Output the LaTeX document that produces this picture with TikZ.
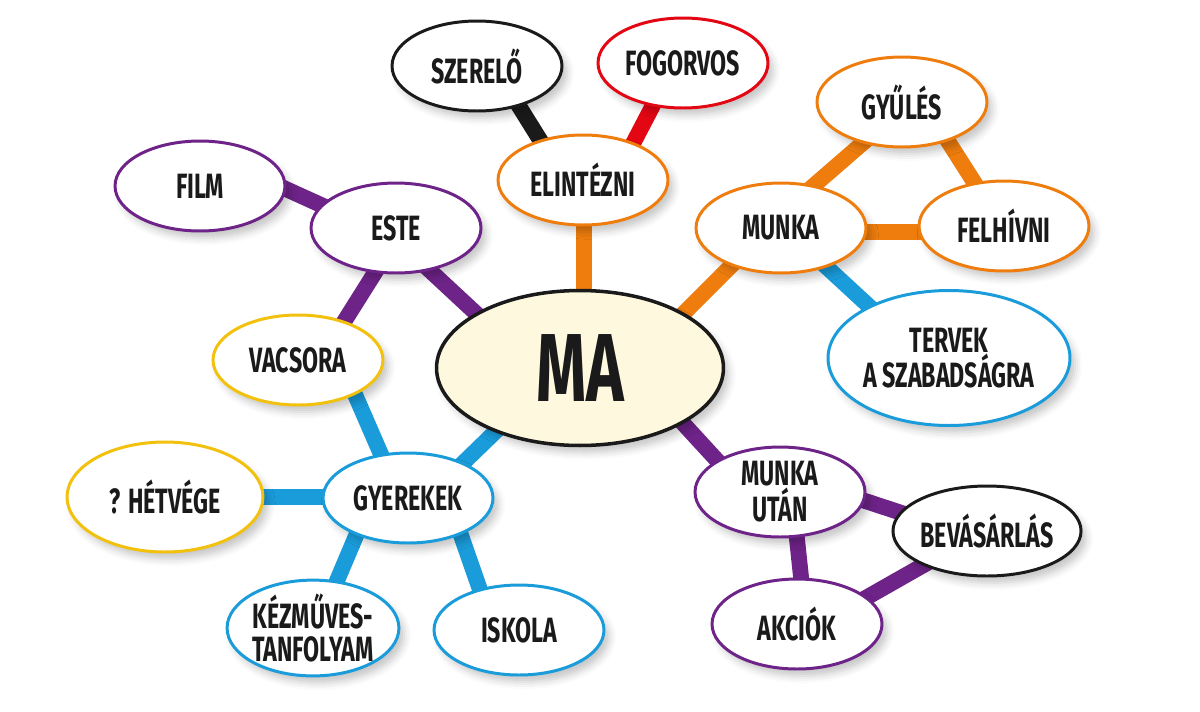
\documentclass[tikz,border=0pt]{standalone}
\usepackage{fontspec}
\newfontfamily\mapfont{Fira Sans}[FakeStretch=0.66]
\usetikzlibrary{shapes.geometric,backgrounds,shadows.blur}

\definecolor{mapink}{HTML}{1A1A1A}
\definecolor{mapcream}{HTML}{FEF9DE}
\definecolor{mappurple}{HTML}{6E2388}
\definecolor{maporange}{HTML}{EE7D0E}
\definecolor{mapblue}{HTML}{1A9CDB}
\definecolor{mapred}{HTML}{E30613}
\definecolor{mapyellow}{HTML}{F2C10E}

\tikzset{
  bubble/.style={ellipse, line width=1.7pt, fill=white, inner sep=0pt,
    minimum width=3.4cm, minimum height=1.8cm, align=center, text=mapink,
    font=\mapfont\bfseries\fontsize{20}{18.5}\selectfont,
    blur shadow={shadow xshift=3pt, shadow yshift=-4pt, shadow blur radius=4pt, shadow opacity=22}},
  link/.style={line width=9pt}
}

\begin{document}
\begin{tikzpicture}[x=0.02cm, y=-0.02cm]
    \useasboundingbox (0,0) rectangle (1200,711);
    % Below nodes are the bubbles.
        \node[bubble, draw=mapink, fill=mapcream, line width=2pt, minimum width=5.74cm, minimum height=3.1cm,
              font=\mapfont\bfseries\fontsize{55}{55}\selectfont] (ma) at (580,368) {MA};
        \node[bubble, draw=mapink] (szerelo) at (477,66) {SZERELŐ};
        \node[bubble, draw=mapred] (fogorvos) at (683,63) {FOGORVOS};
        \node[bubble, draw=maporange] (elintezni) at (583,180) {ELINTÉZNI};
        \node[bubble, draw=mappurple] (este) at (396,228) {ESTE};
        \node[bubble, draw=mappurple] (film) at (200,186) {FILM};
        \node[bubble, draw=maporange] (gyules) at (902,102) {GYŰLÉS};
        \node[bubble, draw=maporange] (munka) at (781,228) {MUNKA};
        \node[bubble, draw=maporange] (felhivni) at (1004,226) {FELHÍVNI};
        \node[bubble, draw=mapblue, minimum width=4.84cm, minimum height=2.7cm] (tervek) at (949,358) {TERVEK\\A SZABADSÁGRA};
        \node[bubble, draw=mapyellow] (vacsora) at (298,360) {VACSORA};
        \node[bubble, draw=mapyellow, minimum width=3.92cm, minimum height=2.2cm] (hetvege) at (165,497) {? HÉTVÉGE};
        \node[bubble, draw=mapblue] (gyerekek) at (408,498) {GYEREKEK};
        \node[bubble, draw=mapblue] (kezmuves) at (313,628) {KÉZMŰVES-\\TANFOLYAM};
        \node[bubble, draw=mapblue] (iskola) at (519,630) {ISKOLA};
        \node[bubble, draw=mappurple] (munkautan) at (780,492) {MUNKA\\UTÁN};
        \node[bubble, draw=mapink] (bevasarlas) at (987,531) {BEVÁSÁRLÁS};
        \node[bubble, draw=mappurple] (akciok) at (797,624) {AKCIÓK};
    % This draws the bars behind the bubbles.
    \begin{scope}[on background layer]
        \draw[link, mappurple] ([shift={(0,-36)}]film.center) -- ([shift={(0,11)}]este.center);
        \draw[link, mappurple] ([shift={(7,0)}]este.center) -- ([shift={(22,0)}]vacsora.center);
        \draw[link, mappurple] ([shift={(0,11)}]este.center) -- ([shift={(0,42)}]ma.center);
        \draw[link, maporange] ([shift={(1,0)}]elintezni.center) -- ([shift={(4,0)}]ma.center);
        \draw[link, mapink] ([shift={(17,0)}]szerelo.center) -- ([shift={(-18,0)}]elintezni.center);
        \draw[link, mapred] ([shift={(-8,0)}]fogorvos.center) -- ([shift={(31,0)}]elintezni.center);
        \draw[link, maporange] ([shift={(-12,0)}]munka.center) -- ([shift={(49,0)}]ma.center);
        \draw[link, mapblue] ([shift={(0,-3)}]munka.center) -- ([shift={(0,22)}]tervek.center);
        \draw[link, maporange] ([shift={(0,-14)}]munka.center) -- ([shift={(0,7)}]gyules.center);
        \draw[link, maporange] ([shift={(21,0)}]gyules.center) -- ([shift={(-2,0)}]felhivni.center);
        \draw[link, maporange] ([shift={(0,4)}]munka.center) -- ([shift={(0,6)}]felhivni.center);
        \draw[link, mapblue] ([shift={(-19,0)}]ma.center) -- ([shift={(19,0)}]gyerekek.center);
        \draw[link, mapblue] ([shift={(42,0)}]vacsora.center) -- ([shift={(-8,0)}]gyerekek.center);
        \draw[link, mapblue] (hetvege.center) -- ([shift={(0,-1)}]gyerekek.center);
        \draw[link, mapblue] ([shift={(-36,0)}]gyerekek.center) -- ([shift={(4,0)}]kezmuves.center);
        \draw[link, mapblue] ([shift={(40,0)}]gyerekek.center) -- ([shift={(-25,0)}]iskola.center);
        \draw[link, mappurple] ([shift={(0,-57)}]ma.center) -- ([shift={(0,37)}]munkautan.center);
        \draw[link, mappurple] ([shift={(0,-19)}]munkautan.center) -- ([shift={(0,10)}]bevasarlas.center);
        \draw[link, mappurple] ([shift={(12,0)}]munkautan.center) -- ([shift={(9,0)}]akciok.center);
        \draw[link, mappurple] ([shift={(0,13)}]akciok.center) -- ([shift={(0,-2)}]bevasarlas.center);
    \end{scope}
\end{tikzpicture}
\end{document}
